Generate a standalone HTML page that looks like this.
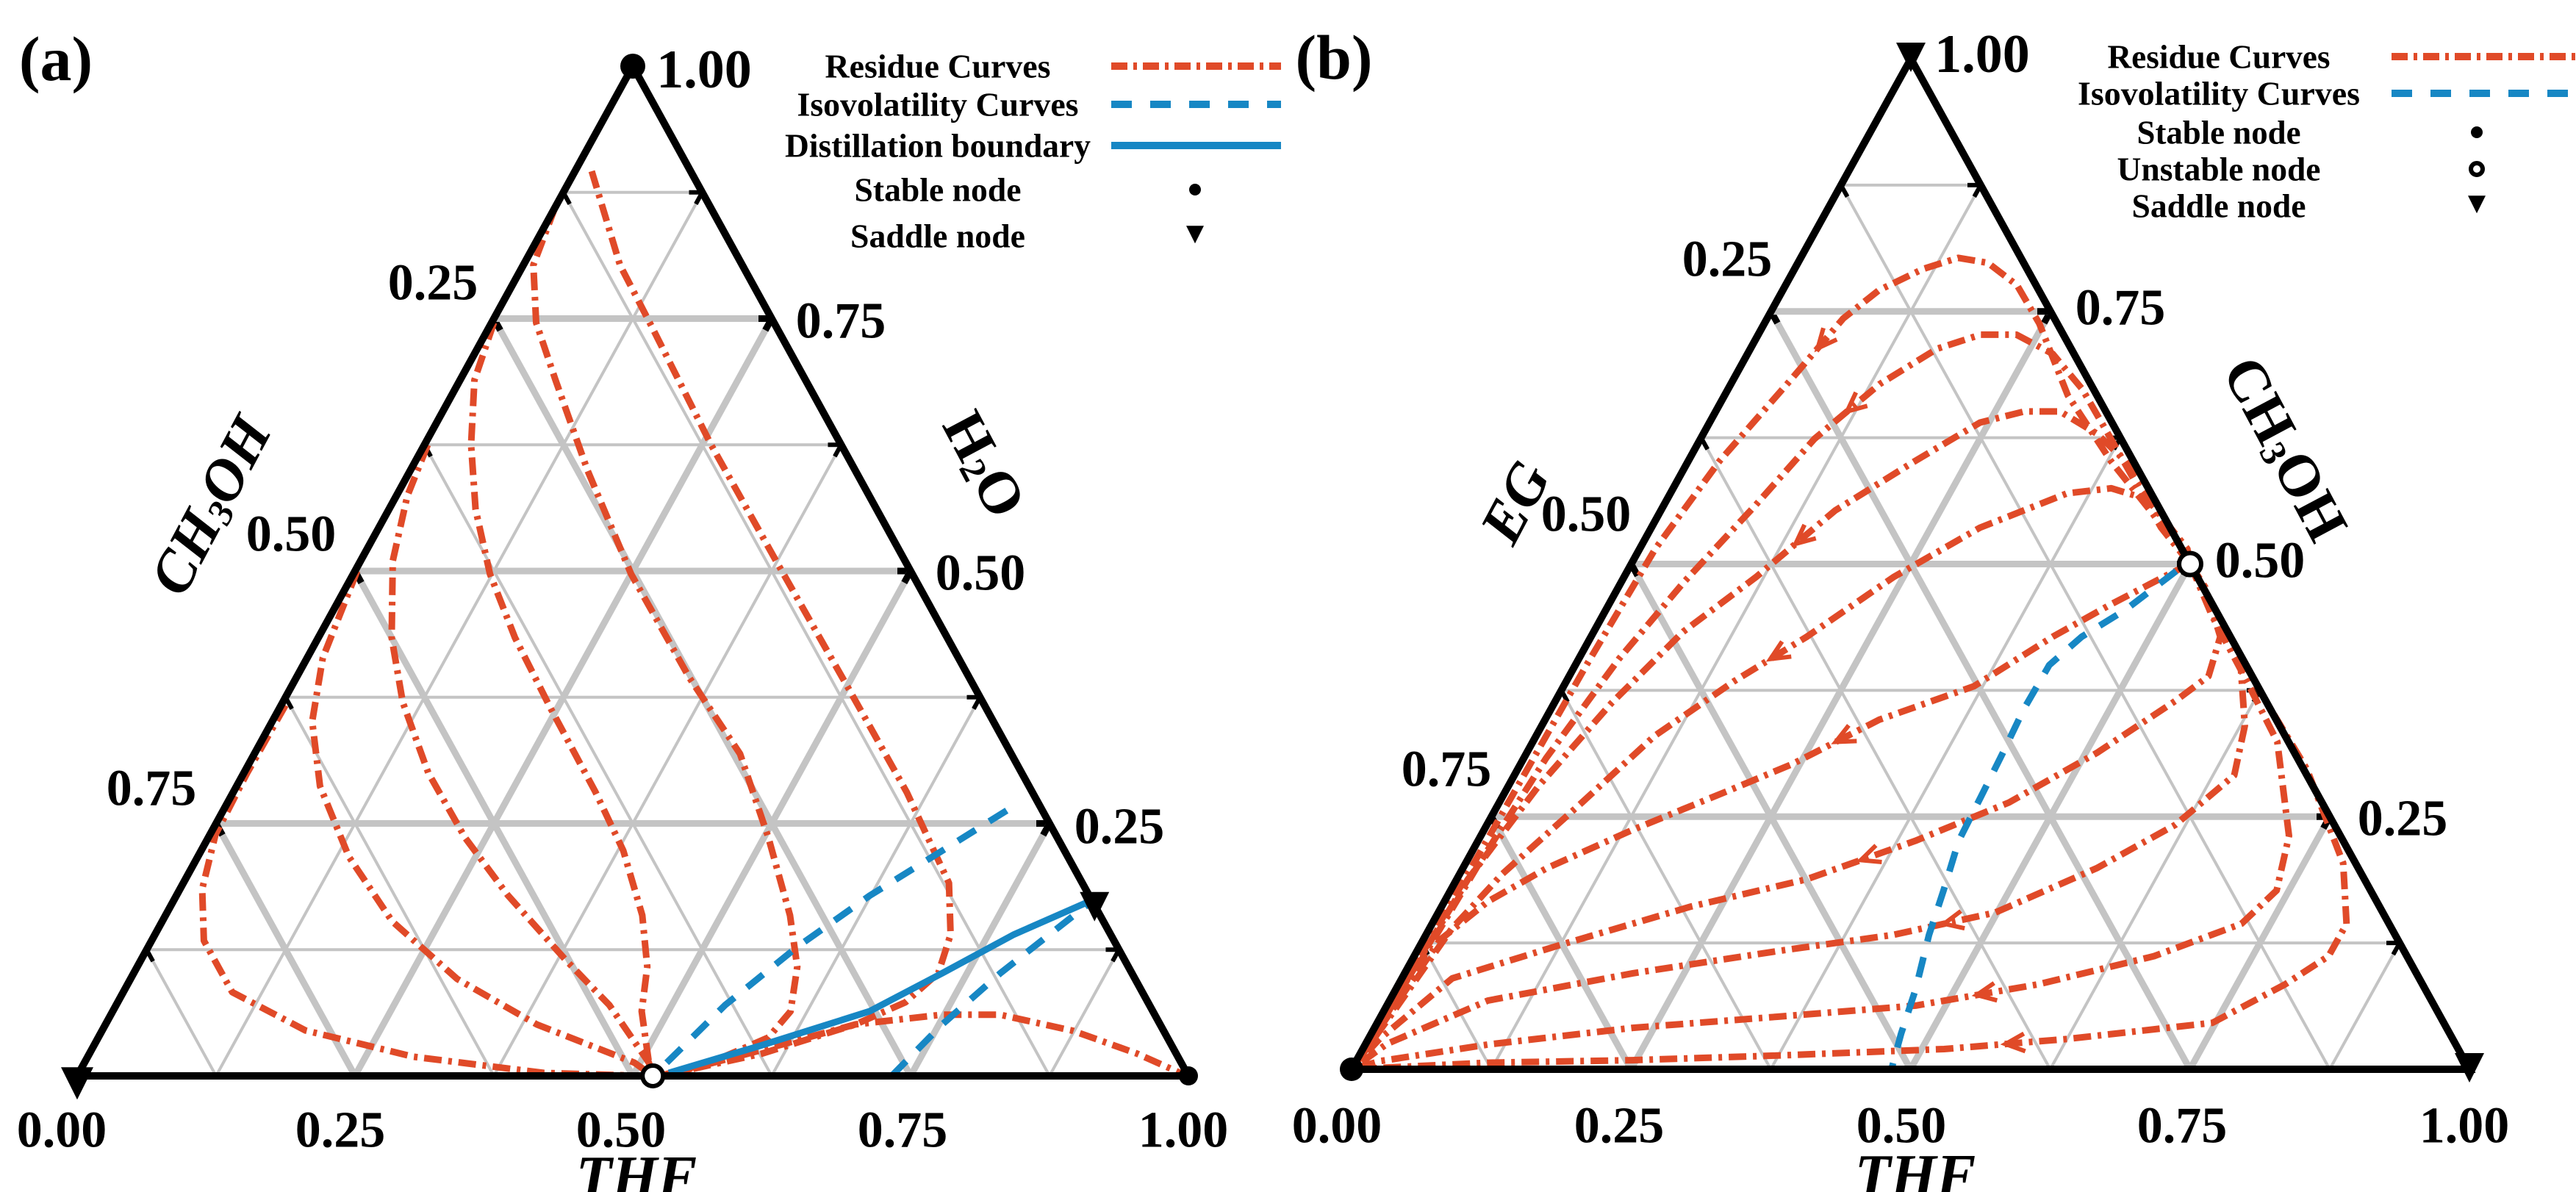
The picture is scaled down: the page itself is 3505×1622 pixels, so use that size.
<!DOCTYPE html>
<html><head><meta charset="utf-8"><style>
html,body{margin:0;padding:0;background:#fff;}
svg{display:block;}
text{font-family:"Liberation Serif",serif;font-weight:bold;fill:#000;}
</style></head><body>
<svg id="chart" width="3505" height="1622" viewBox="0 0 3505 1622" xmlns="http://www.w3.org/2000/svg">
<rect x="0" y="0" width="3505" height="1622" fill="#fff"/>
<g id="panelA"></g>
<g id="panelB"></g>
</svg>
<script>
// ---- data: points as [THF fraction, top-vertex fraction] ----
const gridSteps = [1,2,3,4,5,6,7];
const tickLabels = ["0.00","0.25","0.50","0.75","1.00"];
// Panel (a): top vertex = H2O
const aResidue1 = [[0.015,0.896],[0.087,0.803],[0.148,0.740],[0.258,0.625],[0.374,0.510],[0.503,0.383],[0.606,0.281],[0.689,0.191],[0.716,0.140],[0.724,0.102],[0.709,0.073],[0.675,0.051],[0.605,0.022],[0.536,0.003]];
const aResidue2 = [[0.0,0.86],[0.009,0.803],[0.040,0.746],[0.086,0.689],[0.160,0.599],[0.250,0.497],[0.353,0.395],[0.437,0.319],[0.504,0.236],[0.562,0.159],[0.594,0.108],[0.610,0.064],[0.603,0.038],[0.563,0.013],[0.524,0.0]];
const aResidue3 = [[0.002,0.746],[0.013,0.689],[0.042,0.625],[0.078,0.561],[0.123,0.497],[0.177,0.434],[0.245,0.363],[0.326,0.281],[0.380,0.223],[0.429,0.159],[0.459,0.108],[0.476,0.064],[0.508,0.013],[0.518,0.0]];
const aResidue4 = [[0.003,0.625],[0.010,0.574],[0.029,0.510],[0.066,0.434],[0.108,0.370],[0.166,0.300],[0.231,0.236],[0.298,0.179],[0.382,0.115],[0.444,0.070],[0.508,0.013],[0.518,0.0]];
const aResidue5 = [[0.002,0.500],[0.014,0.414],[0.036,0.351],[0.075,0.287],[0.136,0.217],[0.207,0.153],[0.294,0.096],[0.388,0.051],[0.495,0.013],[0.518,0.0]];
const aResidue6 = [[0.004,0.367],[0.003,0.300],[0.005,0.239],[0.020,0.185],[0.047,0.134],[0.098,0.083],[0.183,0.045],[0.293,0.019],[0.418,0.003],[0.511,0.0]];
const aResidue7 = [[0.536,0.003],[0.603,0.0255],[0.675,0.051],[0.748,0.0606],[0.800,0.0606],[0.874,0.0446],[0.943,0.022],[0.996,0.001]];
const aIso1 = [[0.524,0.013],[0.548,0.070],[0.584,0.1275],[0.624,0.1785],[0.667,0.223],[0.710,0.268]];
const aIso2 = [[0.733,0.0],[0.753,0.051],[0.780,0.102],[0.824,0.169]];
const aBoundary = [[0.531,0.003],[0.600,0.030],[0.681,0.064],[0.728,0.102],[0.773,0.140],[0.823,0.172]];
const aUnstable = [0.518,0.0];
const aSaddle = [0.831,0.169];
// Panel (b): top vertex = CH3OH
const bResidue1 = [[0.5,0.5],[0.445,0.547],[0.378,0.602],[0.307,0.667],[0.246,0.738],[0.207,0.776],[0.170,0.798],[0.141,0.803],[0.115,0.792],[0.086,0.771],[0.068,0.743],[0.052,0.684],[0.028,0.602],[0.014,0.515],[0.010,0.40],[0.008,0.25],[0.006,0.12],[0.004,0.04],[0.0,0.0]];
const bResidue2 = [[0.5,0.5],[0.456,0.536],[0.367,0.624],[0.317,0.673],[0.273,0.708],[0.231,0.727],[0.199,0.727],[0.167,0.713],[0.133,0.678],[0.102,0.624],[0.082,0.558],[0.056,0.482],[0.036,0.406],[0.020,0.308],[0.012,0.2],[0.008,0.1],[0.004,0.03],[0.0,0.0]];
const bResidue3 = [[0.5,0.5],[0.475,0.526],[0.391,0.602],[0.352,0.629],[0.308,0.651],[0.276,0.651],[0.242,0.640],[0.203,0.602],[0.156,0.553],[0.118,0.487],[0.080,0.433],[0.051,0.362],[0.027,0.280],[0.010,0.188],[0.006,0.1],[0.003,0.03],[0.0,0.0]];
const bResidue4 = [[0.5,0.5],[0.490,0.515],[0.430,0.564],[0.392,0.575],[0.355,0.570],[0.294,0.536],[0.241,0.487],[0.193,0.428],[0.150,0.384],[0.106,0.330],[0.074,0.264],[0.038,0.193],[0.020,0.139],[0.009,0.057],[0.0,0.0]];
const bResidue5 = [[0.5,0.5],[0.486,0.490],[0.449,0.460],[0.413,0.428],[0.367,0.379],[0.299,0.346],[0.243,0.302],[0.198,0.275],[0.133,0.237],[0.075,0.199],[0.039,0.166],[0.015,0.128],[0.0,0.0]];
const bResidue6 = [[0.5,0.5],[0.525,0.477],[0.563,0.428],[0.572,0.389],[0.555,0.365],[0.510,0.313],[0.456,0.264],[0.391,0.226],[0.313,0.188],[0.223,0.161],[0.125,0.123],[0.045,0.090],[0.010,0.030],[0.0,0.0]];
const bResidue7 = [[0.5,0.5],[0.545,0.449],[0.598,0.395],[0.629,0.340],[0.644,0.291],[0.616,0.242],[0.567,0.199],[0.498,0.155],[0.418,0.133],[0.323,0.117],[0.204,0.095],[0.088,0.068],[0.019,0.025],[0.0,0.0]];
const bResidue8 = [[0.5,0.5],[0.557,0.438],[0.666,0.324],[0.723,0.231],[0.739,0.177],[0.724,0.144],[0.662,0.112],[0.572,0.084],[0.473,0.063],[0.355,0.052],[0.231,0.041],[0.110,0.0245],[0.021,0.008],[0.0,0.0]];
const bResidue9 = [[0.5,0.5],[0.569,0.428],[0.706,0.297],[0.785,0.204],[0.818,0.144],[0.818,0.112],[0.793,0.084],[0.747,0.046],[0.625,0.030],[0.520,0.020],[0.374,0.0136],[0.247,0.009],[0.118,0.0065],[0.0,0.0]];
const bArrowSeg = [10,8,8,7,5,7,7,7,8];
const bIso = [[0.491,0.493],[0.465,0.455],[0.439,0.428],[0.424,0.400],[0.423,0.357],[0.426,0.313],[0.428,0.270],[0.430,0.226],[0.441,0.177],[0.450,0.133],[0.465,0.079],[0.474,0.035],[0.483,0.0]];
const bUnstable = [0.5,0.5];
</script>
<script>
const NS = "http://www.w3.org/2000/svg";
const RED = "#e04a28", BLUE = "#1787c4";
const geomA = {A:[861,90], L:[105,1464], R:[1617,1464]};
const geomB = {A:[2600,80], L:[1839,1455], R:[3360,1455]};
function P(g, x, z){ const y = 1 - x - z;
  return [g.L[0]*y + g.R[0]*x + g.A[0]*z, g.L[1]*y + g.R[1]*x + g.A[1]*z]; }
function mk(tag, attrs, parent){ const e = document.createElementNS(NS, tag);
  for (const k in attrs) e.setAttribute(k, attrs[k]); parent.appendChild(e); return e; }
function pathD(g, pts){ return pts.map((p,i)=>{const q=P(g,p[0],p[1]);return (i?"L":"M")+q[0].toFixed(1)+" "+q[1].toFixed(1);}).join(" "); }

function drawGrid(g, parent){
  const grp = mk("g", {}, parent);
  
  
  gridSteps.forEach(i=>{
    const k = i/8, thick = (i%2===0);
    const sw = thick ? 9 : 4;
    const segs = [[[0,k],[1-k,k]],[[k,0],[k,1-k]],[[1-k,0],[0,1-k]]];
    segs.forEach(s=>{
      const a = P(g,s[0][0],s[0][1]), b = P(g,s[1][0],s[1][1]);
      const ln = mk("line",{x1:a[0],y1:a[1],x2:b[0],y2:b[1],stroke:"#c4c4c4","stroke-width":sw},grp);
      
      
      const pr=[b,a];
      const dx=pr[1][0]-pr[0][0], dy=pr[1][1]-pr[0][1], L=Math.hypot(dx,dy);
      const t = mk("line",{x1:pr[0][0],y1:pr[0][1],x2:pr[0][0]+dx/L*18,y2:pr[0][1]+dy/L*18,stroke:"#000","stroke-width":thick?9:6},grp);
      
      
    });
  });
}
function drawFrame(g, parent){
  const f = mk("polygon",{points:[g.A,g.L,g.R].map(p=>p.join(",")).join(" "),fill:"none",stroke:"#000","stroke-width":10,"stroke-linejoin":"miter"},parent);
  
  
}
function curve(g, pts, parent, kind, name){
  const attrs = {d:pathD(g,pts),fill:"none","stroke-linejoin":"round"};
  if (kind==="res"){ attrs.stroke=RED; attrs["stroke-width"]=9; attrs["stroke-dasharray"]="24 9 5 9"; }
  else if (kind==="iso"){ attrs.stroke=BLUE; attrs["stroke-width"]=9; attrs["stroke-dasharray"]="28 22"; }
  else { attrs.stroke=BLUE; attrs["stroke-width"]=9; }
  const e = mk("path",attrs,parent);
  
  
  return e;
}
function arrow(g, pts, idx, parent){
  const a = P(g,pts[idx][0],pts[idx][1]), b = P(g,pts[idx+1][0],pts[idx+1][1]);
  const m = [(a[0]+b[0])/2,(a[1]+b[1])/2];
  const dx=b[0]-a[0], dy=b[1]-a[1], L=Math.hypot(dx,dy), ux=dx/L, uy=dy/L;
  const s=26, w=12;
  const p1=[m[0]-ux*s-uy*w, m[1]-uy*s+ux*w], p2=[m[0]-ux*s+uy*w, m[1]-uy*s-ux*w];
  const e = mk("path",{d:`M${p1[0]} ${p1[1]} L${m[0]} ${m[1]} L${p2[0]} ${p2[1]}`,fill:"none",stroke:RED,"stroke-width":6},parent);
  
  
}
function circ(c, r, filled, parent, name){
  const e = mk("circle",{cx:c[0],cy:c[1],r:r,fill:filled?"#000":"#fff",stroke:"#000","stroke-width":filled?0:6},parent);
  
  
}
function tri(c, s, parent, name){
  const e = mk("polygon",{points:`${c[0]-s},${c[1]-s*0.9} ${c[0]+s},${c[1]-s*0.9} ${c[0]},${c[1]+s*1.1}`,fill:"#000"},parent);
  
  
}
function txt(x, y, str, size, parent, name, extra){
  const e = mk("text",Object.assign({x:x,y:y,"font-size":size,"text-anchor":"middle","dominant-baseline":"central"},extra||{}),parent);
  e.textContent = str;
  
  
  return e;
}
// parts: [text, isSub]
function richLabel(x, y, rot, parts, size, italic, parent, name){
  const e = mk("text",{x:0,y:0,"font-size":size,"text-anchor":"middle","dominant-baseline":"central","font-style":italic?"italic":"normal",transform:`translate(${x},${y}) rotate(${rot})`},parent);
  let prevSub=false;
  parts.forEach(p=>{ const t = mk("tspan",{},e); t.textContent=p[0];
    if (p[1]) { t.setAttribute("font-size", Math.round(size*0.62)); t.setAttribute("dy", 16); prevSub=true; }
    else if (prevSub) { t.setAttribute("dy", -16); prevSub=false; } });
  
  
}
function legendLine(x1,x2,y,kind,parent,name){
  const a={x1:x1,y1:y,x2:x2,y2:y,"stroke-width":10};
  if(kind==="res"){a.stroke=RED;a["stroke-dasharray"]="22 8 5 8";}
  else if(kind==="iso"){a.stroke=BLUE;a["stroke-dasharray"]="28 25";}
  else a.stroke=BLUE;
  const e=mk("line",a,parent);
  
  
}

// ---------------- Panel A ----------------
const pa = document.getElementById("panelA");
drawGrid(geomA, pa);
[aResidue1,aResidue2,aResidue3,aResidue4,aResidue5,aResidue6,aResidue7].forEach((c,i)=>curve(geomA,c,pa,"res","residue-curve-"+(i+1)));
curve(geomA,aIso1,pa,"iso","isovolatility-curve-1");
curve(geomA,aIso2,pa,"iso","isovolatility-curve-2");
curve(geomA,aBoundary,pa,"sol","distillation-boundary");
drawFrame(geomA, pa);
circ(P(geomA,0,1),17,true,pa,"stable-node-h2o");
circ(P(geomA,1,0),13,true,pa,"stable-node-thf");
tri([geomA.L[0],geomA.L[1]+8],22,pa,"saddle-node-ch3oh");
tri(P(geomA,aSaddle[0],aSaddle[1]),20,pa,"saddle-node-azeotrope");
circ(P(geomA,aUnstable[0],aUnstable[1]),14,false,pa,"unstable-node");
[[84,1538],[463,1538],[845,1538],[1228,1538],[1610,1538]].forEach((p,i)=>txt(p[0],p[1],tickLabels[i],70,pa,"thf-tick-label"));
[[589,385],[396,727],[206,1073]].forEach((p,i)=>txt(p[0],p[1],tickLabels[i+1],70,pa,"ch3oh-tick-label"));
[[1144,437],[1334,780],[1523,1125]].forEach((p,i)=>txt(p[0],p[1],tickLabels[3-i],70,pa,"h2o-tick-label"));
txt(958,95,tickLabels[4],74,pa,"apex-tick-label");
txt(866,1602,"THF",80,pa,"thf-axis-title",{"font-style":"italic"});
richLabel(287,688,-62,[["CH",false],["3",true],["OH",false]],80,true,pa,"ch3oh-axis-title");
richLabel(1339,632,62,[["H",false],["2",true],["O",false]],80,false,pa,"h2o-axis-title");
txt(76,80,"(a)",86,pa,"panel-label-a");
const legA = mk("g",{},pa);


[["Residue Curves",90,307],["Isovolatility Curves",142,383],["Distillation boundary",198,416],["Stable node",258,227],["Saddle node",321,238]].forEach(r=>{
  txt(1276,r[1],r[0],46,legA,"legend-label",{textLength:r[2],lengthAdjust:"spacingAndGlyphs"});
});
legendLine(1512,1743,90,"res",legA,"legend-residue-line");
legendLine(1512,1743,142,"iso",legA,"legend-iso-line");
legendLine(1512,1743,198,"sol",legA,"legend-boundary-line");
circ([1626,258],8,true,legA,"legend-stable-marker");
tri([1626,318],12,legA,"legend-saddle-marker");

// ---------------- Panel B ----------------
const pb = document.getElementById("panelB");
drawGrid(geomB, pb);
const bCurves=[bResidue1,bResidue2,bResidue3,bResidue4,bResidue5,bResidue6,bResidue7,bResidue8,bResidue9];
bCurves.forEach((c,i)=>{ curve(geomB,c,pb,"res","residue-curve-"+(i+1)); arrow(geomB,c,bArrowSeg[i],pb); });
curve(geomB,bIso,pb,"iso","isovolatility-curve");
drawFrame(geomB, pb);
tri([geomB.A[0],geomB.A[1]-4],20,pb,"saddle-node-ch3oh");
tri([geomB.R[0],geomB.R[1]-4],20,pb,"saddle-node-thf");
circ(P(geomB,0,0),16,true,pb,"stable-node-eg");
circ(P(geomB,bUnstable[0],bUnstable[1]),15,false,pb,"unstable-node");
[[1819,1532],[2203,1532],[2587,1532],[2969,1532],[3353,1532]].forEach((p,i)=>txt(p[0],p[1],tickLabels[i],70,pb,"thf-tick-label"));
[[2350,353],[2158,700],[1968,1047]].forEach((p,i)=>txt(p[0],p[1],tickLabels[i+1],70,pb,"eg-tick-label"));
[[2885,419],[3075,763],[3269,1114]].forEach((p,i)=>txt(p[0],p[1],tickLabels[3-i],70,pb,"ch3oh-tick-label"));
txt(2697,74,tickLabels[4],74,pb,"apex-tick-label");
txt(2606,1600,"THF",80,pb,"thf-axis-title",{"font-style":"italic"});
richLabel(2062,684,-62,[["EG",false]],80,true,pb,"eg-axis-title");
richLabel(3109,611,62,[["CH",false],["3",true],["OH",false]],80,false,pb,"ch3oh-axis-title");
txt(1815,78,"(b)",86,pb,"panel-label-b");
const legB = mk("g",{},pb);


[["Residue Curves",77,303],["Isovolatility Curves",127,384],["Stable node",180,223],["Unstable node",230,277],["Saddle node",280,237]].forEach(r=>{
  txt(3019,r[1],r[0],46,legB,"legend-label",{textLength:r[2],lengthAdjust:"spacingAndGlyphs"});
});
legendLine(3254,3505,77,"res",legB,"legend-residue-line");
legendLine(3254,3505,127,"iso",legB,"legend-iso-line");
circ([3370,180],8,true,legB,"legend-stable-marker");
circ([3370,230],8,false,legB,"legend-unstable-marker");
tri([3370,277],12,legB,"legend-saddle-marker");
</script>
</body></html>
